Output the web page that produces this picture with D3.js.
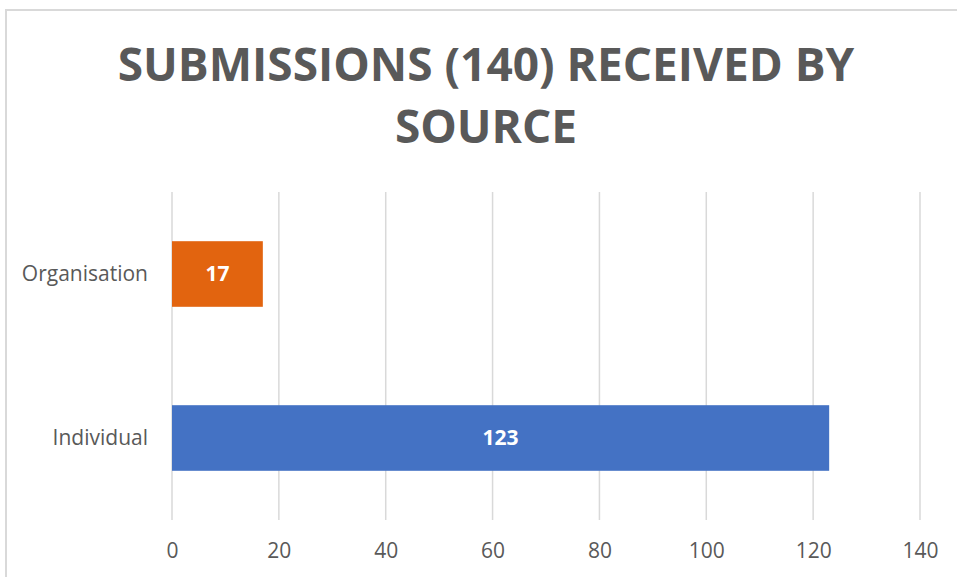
<!DOCTYPE html>
<html><head><meta charset="utf-8">
<script src="https://cdn.jsdelivr.net/npm/d3@7"></script>
<style>html,body{margin:0;padding:0;background:#fff;overflow:hidden}svg{display:block}</style>
</head><body>
<svg id="c" width="957" height="577"></svg>
<script>
const titleLines = ["SUBMISSIONS (140) RECEIVED BY", "SOURCE"];
const categories = ["Organisation", "Individual"];
const values = [17, 123];
const barColors = ["#E2640F", "#4472C4"];
const tickValues = [0, 20, 40, 60, 80, 100, 120, 140];

const svg = d3.select("#c");
const font = "'Open Sans', 'DejaVu Sans', sans-serif";
const grey = "#595959";

// chart border
svg.append("rect").attr("x", 6).attr("y", 10).attr("width", 980).attr("height", 600)
  .attr("fill", "#fff").attr("stroke", "#d9d9d9").attr("stroke-width", 2);

// title
svg.append("g").selectAll("text").data(titleLines).join("text")
  .attr("x", 486).attr("y", (d, i) => 81 + i * 62)
  .attr("text-anchor", "middle").attr("font-family", font).attr("font-weight", 700)
  .attr("font-size", 46).attr("fill", grey).text(d => d);

const x = d3.scaleLinear().domain([0, 140]).range([172, 920]);
const y = d3.scaleBand().domain(categories).range([192, 520]).paddingInner(0.6).paddingOuter(0.3);

// gridlines
svg.append("g").selectAll("line").data(tickValues).join("line")
  .attr("x1", d => x(d)).attr("x2", d => x(d)).attr("y1", 192).attr("y2", 520)
  .attr("stroke", "#d9d9d9").attr("stroke-width", 1.5);

// x axis
const xAxis = svg.append("g").attr("transform", "translate(0,520)")
  .call(d3.axisBottom(x).tickValues(tickValues).tickSize(0).tickPadding(23));
xAxis.select(".domain").remove();
xAxis.selectAll("text").attr("font-family", font).attr("font-size", 21).attr("fill", grey);

// y axis
const yAxis = svg.append("g").attr("transform", "translate(172,0)")
  .call(d3.axisLeft(y).tickSize(0).tickPadding(24));
yAxis.select(".domain").remove();
yAxis.selectAll("text").attr("font-family", font).attr("font-size", 21).attr("fill", grey);

// bars
svg.append("g").selectAll("rect").data(categories).join("rect")
  .attr("x", x(0)).attr("y", d => y(d))
  .attr("width", (d, i) => x(values[i]) - x(0)).attr("height", y.bandwidth())
  .attr("fill", (d, i) => barColors[i]);

// labels
svg.append("g").selectAll("text").data(categories).join("text")
  .attr("x", (d, i) => (x(0) + x(values[i])) / 2)
  .attr("y", d => y(d) + y.bandwidth() / 2)
  .attr("dy", "0.35em").attr("text-anchor", "middle")
  .attr("font-family", font).attr("font-weight", 700).attr("font-size", 21)
  .attr("fill", "#fff").text((d, i) => values[i]);
</script>
</body></html>
